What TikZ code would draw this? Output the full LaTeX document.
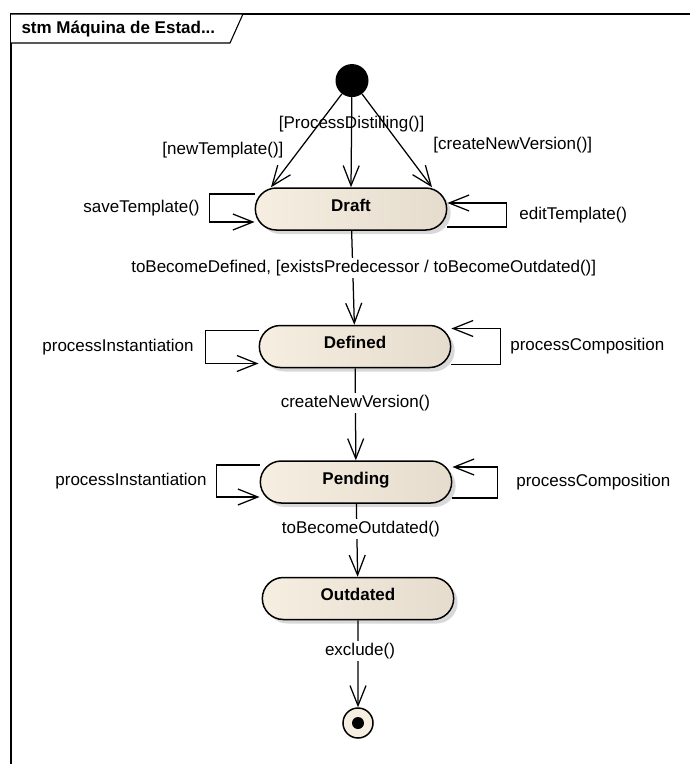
\documentclass[tikz,border=0pt]{standalone}
\usepackage{fontspec}
\setmainfont{Liberation Sans}
\usetikzlibrary{arrows.meta,shapes.misc,shadows,positioning}
\definecolor{stateleft}{RGB}{246,238,224}
\definecolor{statemid}{RGB}{249,242,231}
\definecolor{stateright}{RGB}{229,220,206}

\begin{document}
\begin{tikzpicture}[x=1pt,y=-1pt,>={Straight Barb[length=20pt,width=16pt]},
  every node/.style={font=\fontsize{17}{20}\selectfont},
  state node/.style={rounded rectangle,draw,line width=1.5pt,minimum width=198pt,minimum height=42pt,text height=12pt,text depth=8pt,left color=stateleft,middle color=statemid,right color=stateright,font=\fontsize{17}{20}\selectfont\bfseries,drop shadow={shadow xshift=4pt,shadow yshift=-4pt,fill=black!30}},
  init node/.style={circle,fill=black,minimum size=33pt,inner sep=0pt},
  final node/.style={circle,draw,line width=1.5pt,fill=stateleft,minimum size=30pt,inner sep=0pt},
  trans/.style={->,line width=1.25pt},
  cut label/.style={fill=white,inner sep=2pt}]
            \useasboundingbox (0,0) rectangle (690,764);

            % frame with title tab
            \draw[line width=1.5pt] (11,764) -- (11,14) -- (690,14);
            \draw[line width=1.1pt,fill=white] (11,14) -- (243,14) -- (230,43) -- (11,43);
            \node[anchor=west,font=\fontsize{17}{20}\selectfont\bfseries] (title) at (18,29) {stm Máquina de Estad...};

            \node[state node] (draft) at (351,209) {Draft};
            \node[init node] (init) [above=90pt of draft,xshift=1pt] {};
            \node[state node] (defined) [below=94pt of draft,xshift=4pt] {Defined};
            \node[state node] (pending) [below=92pt of defined,xshift=1pt] {Pending};
            \node[state node] (outdated) [below=73pt of pending,xshift=2pt] {Outdated};
            \node[final node] (final) [below=87pt of outdated] {};
            \node[circle,fill=black,minimum size=12pt,inner sep=0pt] (finaldot) at (final) {};

            % from the initial state
            \draw[trans] (init) -- ([xshift=-80pt]draft.north) node[pos=0.6,left=12pt] {[newTemplate()]};
            \draw[trans] (init) -- (draft.north) node[pos=0.3] {[ProcessDistilling()]};
            \draw[trans] (init) -- ([xshift=81pt]draft.north) node[pos=0.55,right=29pt] {[createNewVersion()]};

            % self transitions
            \draw[trans] ([yshift=15pt]draft.west) -- ++(-45,0) |- node[pos=0.25,left=6pt] {saveTemplate()} ([yshift=-13pt]draft.west);
            \draw[trans] ([yshift=-18pt]draft.east) -- ++(59,0) |- node[pos=0.25,right=9pt] {editTemplate()} ([yshift=6pt]draft.east);
            \draw[trans] ([yshift=16pt]defined.west) -- ++(-53,0) |- node[pos=0.25,left=8pt] {processInstantiation} ([yshift=-17pt]defined.west);
            \draw[trans] ([yshift=-18pt]defined.east) -- ++(49,0) |- node[pos=0.25,right=6pt] {processComposition} ([yshift=18pt]defined.east);
            \draw[trans] ([yshift=17pt]pending.west) -- ++(-43,0) |- node[pos=0.25,left=6pt] {processInstantiation} ([yshift=-15pt]pending.west);
            \draw[trans] ([yshift=-16pt]pending.east) -- ++(45,0) |- node[pos=0.25,right=15pt] {processComposition} ([yshift=15pt]pending.east);

            % down the chain
            \draw[trans] (draft) -- (defined) node[pos=0.4,cut label,xshift=11pt] {toBecomeDefined, [existsPredecessor / toBecomeOutdated()]};
            \draw[trans] (defined) -- (pending) node[pos=0.38,cut label] {createNewVersion()};
            \draw[trans] (pending) -- (outdated) node[pos=0.35,cut label,xshift=4pt] {toBecomeOutdated()};
            \draw[trans] (outdated) -- (final) node[pos=0.35,cut label,xshift=2pt] {exclude()};
\end{tikzpicture}
\end{document}
